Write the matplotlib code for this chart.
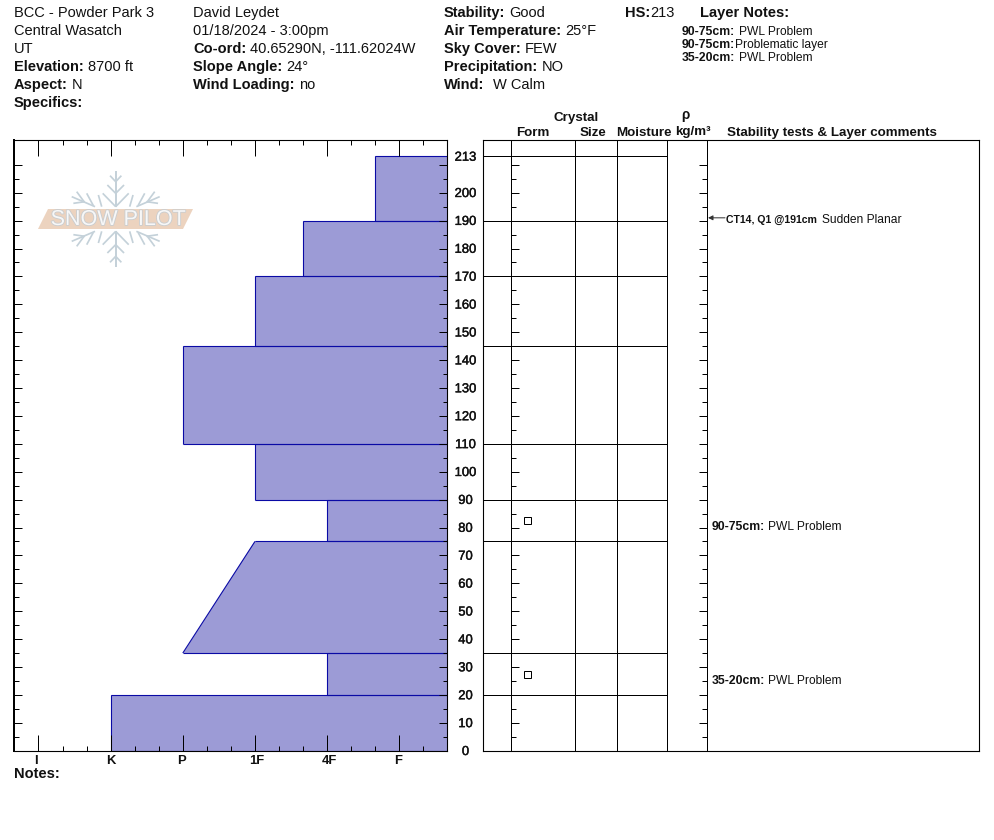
import numpy as np
import matplotlib
matplotlib.use("Agg")
import matplotlib.pyplot as plt
from matplotlib.patches import Polygon
import matplotlib.patheffects as pe

plt.rcParams['font.family'] = ['Liberation Sans', 'DejaVu Sans']

W, H = 994, 840
# layers: top cm, bottom cm, hardness at top, hardness at bottom
layer_top = [213, 190, 170, 145, 110, 90, 75, 35, 20]
layer_bot = [190, 170, 145, 110, 90, 75, 35, 20, 0]
hard_top = [5.667, 4.667, 4, 3, 4, 5, 4, 5, 2]
hard_bot = [5.667, 4.667, 4, 3, 4, 5, 3, 5, 2]
hard_names = ['I', 'K', 'P', '1F', '4F', 'F']
hard_pos = [1, 2, 3, 4, 5, 6]
depth_ticks = [0, 10, 20, 30, 40, 50, 60, 70, 80, 90, 100, 110, 120, 130, 140, 150, 160, 170, 180, 190, 200, 213]
grain_cm = [82.8, 27.5]
test_cm = [191]
left_header = [[('', 'BCC - Powder Park 3')], [('', 'Central Wasatch')], [('', 'UT')],
               [('Elevation:', ' 8700 ft')], [('Aspect:', ' N')], [('Specifics:', '')]]
mid_header = [[('', 'David Leydet')], [('', '01/18/2024 - 3:00pm')], [('Co-ord:', ' 40.65290N, -111.62024W')],
              [('Slope Angle:', ' 24°')], [('Wind Loading:', ' no')]]
wx_header = [[('Stability:', ' Good')], [('Air Temperature:', ' 25°F')], [('Sky Cover:', ' FEW')],
             [('Precipitation:', ' NO')], [('Wind:', '  W Calm')]]
layer_notes = [('90-75cm:', ' PWL Problem'), ('90-75cm:', 'Problematic layer'), ('35-20cm:', ' PWL Problem')]
side_notes = [('90-75cm:', ' PWL Problem', 526), ('35-20cm:', ' PWL Problem', 680)]

FILL, EDGE, BLACK = '#9c9bd6', '#0a0aa5', '#000000'
PX = 0.72
YMAX = 219.0
Y0, Y1 = 139.7, 750.7


def add_axes(x0, x1, y0=Y0, y1=Y1):
    return fig.add_axes([x0 / W, 1 - y1 / H, (x1 - x0) / W, (y1 - y0) / H])


fig = plt.figure(figsize=(W / 100, H / 100), dpi=100, facecolor='white')

# ---------- hardness profile
ax = add_axes(14.4, 447.4)
XR = 6 + 2 / 3
ax.set_xlim(2 / 3, XR)
ax.set_ylim(0, YMAX)
for t, b, ht, hb in zip(layer_top, layer_bot, hard_top, hard_bot):
    ax.fill([ht, XR, XR, hb], [t, t, b, b], facecolor=FILL, edgecolor='none', zorder=1)
    ax.plot([ht, XR], [t, t], color=EDGE, lw=PX * 1.1, zorder=1.5, solid_capstyle='butt')
    ax.plot([hb, XR], [b, b], color=EDGE, lw=PX * 1.1, zorder=1.5, solid_capstyle='butt')
    ax.plot([ht, hb], [t, b], color=EDGE, lw=PX * 1.1, zorder=1.5, solid_capstyle='butt')
for s in ax.spines.values():
    s.set_linewidth(PX * 1.1)
    s.set_zorder(3)
ax.spines['left'].set_linewidth(PX * 2)
major_x = np.array(hard_pos)
minor_x = np.arange(2 / 3, 6.67, 1 / 3)
minor_x = [m for m in minor_x if min(abs(m - major_x)) > 0.01 and 0.7 < m < 6.6]
ax.set_xticks(hard_pos)
ax.set_xticklabels([])
ax.set_xticks(minor_x, minor=True)
ax.tick_params(axis='x', which='major', direction='in', top=True, bottom=True, length=16 * PX, width=PX)
ax.tick_params(axis='x', which='minor', direction='in', top=True, bottom=True, length=5 * PX, width=PX)
maj_y = np.arange(0, 211, 10)
min_y = np.arange(5, 211, 10)
ax.set_yticks(maj_y)
ax.set_yticklabels([])
ax.set_yticks(min_y, minor=True)
ax.tick_params(axis='y', which='major', direction='in', left=True, right=True, length=8 * PX, width=PX)
ax.tick_params(axis='y', which='minor', direction='in', left=True, right=True, length=4.5 * PX, width=PX)

# ---------- layer table
ax2 = add_axes(483.0, 979.0)
ax2.set_xlim(483.0, 979.0)
ax2.set_ylim(0, YMAX)
ax2.set_xticks([])
ax2.set_yticks([])
for s in ax2.spines.values():
    s.set_linewidth(PX * 1.1)
for xc in [511, 575, 617, 667, 707]:
    ax2.axvline(xc, color=BLACK, lw=PX)
ax2.hlines(sorted(set(layer_top + layer_bot) - {0}), 483, 667, color=BLACK, lw=PX)
for y in np.concatenate([maj_y, min_y]):
    ln = 8 if y % 10 == 0 else 5
    ax2.plot([511, 511 + ln], [y, y], color=BLACK, lw=PX, solid_capstyle='butt')
    ax2.plot([707, 707 - ln], [y, y], color=BLACK, lw=PX, solid_capstyle='butt')
ax2.plot([527] * len(grain_cm), grain_cm, ls='none', marker='s', ms=7 * PX, mfc='white', mec=BLACK, mew=PX)
ax2.annotate('', xy=(708, test_cm[0]), xytext=(725, test_cm[0]),
             arrowprops=dict(arrowstyle='-|>', color='#333333', lw=PX, mutation_scale=7, shrinkA=0, shrinkB=0))

# ---------- overlay in pixel coordinates for text and logo
ov = fig.add_axes([0, 0, 1, 1], facecolor='none')
ov.set_xlim(0, W)
ov.set_ylim(H, 0)
ov.axis('off')

# logo: strokes of the upper-left quarter, mirrored about the centre
cx, cy = 115.7, 219
FL = '#c4d1d9'
logo_strokes = [[(0, -144), (0, -37)],
                [(-39, -77), (0, -37)], [(-25, -102), (0, -77)], [(-17, -130), (0, -112)],
                [(-132, -67), (-62, -37)], [(-87, -77), (-67, -40)], [(-127, -47), (-92, -52)],
                [(-117, -82), (-95, -52)], [(-52, -72), (-42, -37)]]
for sx in (-1, 1):
    for sy in (-1, 1):
        for (xa, ya), (xb, yb) in logo_strokes:
            ov.plot([cx + sx * xa / 3, cx + sx * xb / 3], [cy + sy * ya / 3, cy + sy * yb / 3],
                    color=FL, lw=1.7 * PX, zorder=3, solid_capstyle='butt')
ov.add_patch(Polygon([(38, 229), (48, 209), (193, 209), (183, 229)], closed=True, fc='#ecd3bf', ec='none', zorder=4))
ov.text(118, 219.5, 'SNOW PILOT', ha='center', va='center', fontsize=15.5, color='#f7f7f7', zorder=5,
        path_effects=[pe.withStroke(linewidth=1.2, foreground='#c9cdd0')])

DY = 1.0


def rich(x, y, parts, size=14.6, bold_size=None, gap=0.0):
    """Write bold label then regular value on one baseline at pixel position."""
    r = fig.canvas.get_renderer()
    for bold, reg in parts:
        cur = x
        if bold:
            t = ov.text(cur, y + DY, bold, fontsize=(bold_size or size) * PX, fontweight='bold',
                        va='center', ha='left', color='#111111')
            cur = ov.transData.inverted().transform(t.get_window_extent(r))[1, 0]
        if reg:
            if reg.startswith(' '):
                cur += size * 0.28 * (len(reg) - len(reg.lstrip()))
            ov.text(cur + gap, y + DY, reg.lstrip(), fontsize=size * PX, va='center', ha='left', color='#111111')


for i, p in enumerate(left_header):
    rich(14, 12 + 18 * i, p)
for i, p in enumerate(mid_header):
    rich(193, 12 + 18 * i, p)
for i, p in enumerate(wx_header):
    rich(444, 12 + 18 * i, p)
rich(625, 12, [('HS:', '213')])
rich(700, 12, [('Layer Notes:', '')])
for i, p in enumerate(layer_notes):
    rich(682, 31 + 13 * i, [p], size=12, bold_size=12.3)

for nm, pos in zip(hard_names, [36, 111, 182, 257, 329, 398]):
    ov.text(pos, 760 + DY, nm, ha='center', va='center', fontsize=13 * PX, fontweight='bold', color='#111111')
rich(14, 773, [('Notes:', '')])

for d in depth_ticks:
    ypx = 750.7 - d * 2.79
    ov.text(465.5, ypx + 1.3, str(d), ha='center', va='center', fontsize=13 * PX, color='#111111',
            path_effects=[pe.withStroke(linewidth=0.3, foreground='#111111')])

for txt, x, y in [('Crystal', 576, 117), ('Form', 532.5, 132), ('Size', 593, 132), ('Moisture', 644, 132),
                  ('kg/m³', 692.5, 131), ('Stability tests & Layer comments', 832, 132)]:
    ov.text(x, y + DY, txt, ha='center', va='center', fontsize=13.4 * PX, fontweight='bold', color='#111111')
ov.text(685, 115, 'ρ', ha='center', va='center', fontsize=13.5 * PX, fontweight='bold', color='#111111')

rich(726, 219, [('CT14, Q1 @191cm', ' Sudden Planar')], size=12, bold_size=10.5, gap=1.5)
for b, r_, y in side_notes:
    rich(712, y, [(b, r_)], size=12, bold_size=12.3, gap=-1)

fig.savefig('out.png', dpi=100, facecolor='white')
